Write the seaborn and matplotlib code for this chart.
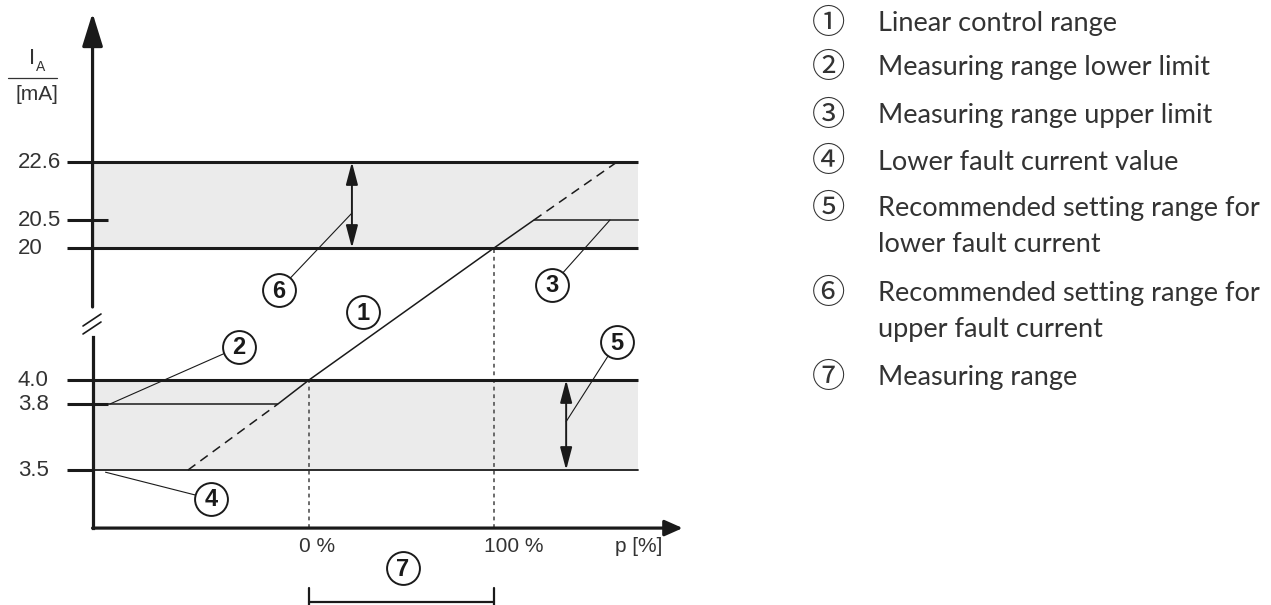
import numpy as np
import matplotlib
matplotlib.use('Agg')
import matplotlib.pyplot as plt
import matplotlib.transforms as mtransforms
import seaborn as sns

# current levels on the vertical axis (mA)
current_ticks = [3.5, 3.8, 4.0, 20.0, 20.5, 22.6]
current_labels = ['3.5', '3.8', '4.0', '20', '20.5', '22.6']

# characteristic: pressure p [%] -> output current I_A [mA]
curve_p = [-117, -16.8, 0, 100, 121.6, 178]
curve_ma = [3.8, 3.8, 4.0, 20.0, 20.5, 20.5]
low_ext_p = [-65.4, -16.8]
low_ext_ma = [3.5, 3.8]
high_ext_p = [121.6, 166.5]
high_ext_ma = [20.5, 22.6]

p_ticks = [0, 100]
p_labels = ['0 %', '100 %']

# recommended fault current setting bands (mA)
band_low = (3.5, 4.0)
band_high = (20.0, 22.6)

legend_marks = ['①', '②', '③', '④', '⑤', '⑥', '⑦']
legend_texts = ['Linear control range',
                'Measuring range lower limit',
                'Measuring range upper limit',
                'Lower fault current value',
                'Recommended setting range for\nlower fault current',
                'Recommended setting range for\nupper fault current',
                'Measuring range']

# --- layout -------------------------------------------------------------
W, H = 1271, 605
P_AXIS, P_END, P_TICK, P_ARROW = -117, 178, -131, 202
Y_BASE, BREAK_LO, BREAK_HI, Y_TOP = 3.236, 9.21, 12.85, 28.0
INK = '#1a1a1a'
TXT = '#333333'

# broken, not-to-scale current axis
ma_knots = [2.0, 3.5, 3.8, 4.0, 20.0, 20.5, 22.6, 30.0]
pos_knots = [-800, -470, -404, -380, -248, -220, -162, 42.2]

def fwd(v):
    return np.interp(v, ma_knots, pos_knots)

def inv(v):
    return np.interp(v, pos_knots, ma_knots)

sns.set_theme(style='white')
plt.rcParams['font.family'] = ['Liberation Sans', 'DejaVu Sans']

fig = plt.figure(figsize=(W / 100, H / 100), dpi=100)
ax = fig.add_axes([0, 0, 1, 1])
ax.set_yscale('function', functions=(fwd, inv))
ax.set_xlim(-309 / 1.85, (W - 309) / 1.85)
ax.set_ylim(inv(-H), inv(0))
ax.axis('off')

px = mtransforms.Affine2D().scale(1 / W, -1 / H).translate(0, 1) + fig.transFigure
x_px_y_data = mtransforms.blended_transform_factory(px, ax.transData)
x_data_y_px = mtransforms.blended_transform_factory(ax.transData, px)

# shaded bands
for lo, hi in [band_low, band_high]:
    ax.fill_between([P_AXIS, P_END], lo, hi, color='#ebebeb', lw=0, zorder=1)

# level lines and ticks
for v in [22.6, 20.0, 4.0]:
    ax.plot([P_TICK, P_END], [v, v], color=INK, lw=2.2, zorder=3, solid_capstyle='butt')
ax.plot([P_TICK, P_AXIS], [3.5, 3.5], color=INK, lw=2.2, zorder=3, solid_capstyle='butt')
ax.plot([P_AXIS, P_END], [3.5, 3.5], color=INK, lw=1.3, zorder=3)
for v in [20.5, 3.8]:
    ax.plot([P_TICK, -108.6], [v, v], color=INK, lw=2.2, zorder=3, solid_capstyle='butt')
for v, lab in zip(current_ticks, current_labels):
    ax.text(18, v, lab, transform=x_px_y_data, ha='left', va='center',
            fontsize=16, color=TXT)

# characteristic curve
sns.lineplot(x=curve_p, y=curve_ma, ax=ax, sort=False, estimator=None,
             color=INK, lw=1.1, zorder=4)
for xs, ys in [(low_ext_p, low_ext_ma), (high_ext_p, high_ext_ma)]:
    sns.lineplot(x=xs, y=ys, ax=ax, sort=False, estimator=None,
                 color=INK, lw=1.1, zorder=4, linestyle=(0, (6, 4)))

# dotted guides at 0 % and 100 %
for p, v in zip(p_ticks, [4.0, 20.0]):
    ax.plot([p, p], [Y_BASE, v], color='#444444', lw=1.1, linestyle=(0, (2.5, 2.5)), zorder=2)

# axes with arrows and break
ax.plot([P_AXIS, P_AXIS], [Y_BASE, BREAK_LO], color=INK, lw=2.3, zorder=5,
        solid_capstyle='projecting')
ax.annotate('', xy=(P_AXIS, Y_TOP), xytext=(P_AXIS, BREAK_HI),
            arrowprops=dict(arrowstyle='-|>,head_length=1.45,head_width=0.45',
                            mutation_scale=14, color=INK, lw=2.3,
                            shrinkA=0, shrinkB=0), zorder=5)
ax.annotate('', xy=(P_ARROW, Y_BASE), xytext=(P_AXIS, Y_BASE),
            arrowprops=dict(arrowstyle='-|>,head_length=0.9,head_width=0.4',
                            mutation_scale=12, color=INK, lw=2.3,
                            shrinkA=0, shrinkB=0), zorder=5)
for yb in [326, 334]:
    ax.plot([83, 101], [yb, yb - 12], transform=px, color=INK, lw=1.2, zorder=5)

# double arrows for recommended setting ranges
for p, (lo, hi) in [(23.2, band_high), (139.0, band_low)]:
    ax.annotate('', xy=(p, hi), xytext=(p, lo),
                arrowprops=dict(arrowstyle='<|-|>,head_length=1.25,head_width=0.33',
                                mutation_scale=11, color=INK, lw=1.4,
                                shrinkA=0, shrinkB=0), zorder=4)

# axis labels
ax.text(32, 58, 'I', transform=px, ha='center', va='center', fontsize=16, color=TXT)
ax.text(41, 67, 'A', transform=px, ha='center', va='center', fontsize=10, color=TXT)
ax.plot([8, 57], [78, 78], transform=px, color=TXT, lw=0.9)
ax.text(37, 95, '[mA]', transform=px, ha='center', va='center', fontsize=15, color=TXT)
for p, lab in zip(p_ticks, p_labels):
    ax.annotate(lab, xy=(p, 547), xycoords=x_data_y_px, xytext=(-10, 0),
                textcoords='offset pixels', ha='left', va='center', fontsize=15, color=TXT)
ax.text(615, 547, 'p [%]', transform=px, ha='left', va='center', fontsize=15, color=TXT)

# measuring range bar
ax.annotate('', xy=(0, 602), xycoords=x_data_y_px, xytext=(100, 602),
            textcoords=x_data_y_px,
            arrowprops=dict(arrowstyle='|-|,widthA=0.7,widthB=0.7', mutation_scale=14,
                            color=INK, lw=1.6, shrinkA=0, shrinkB=0))

# callouts: (number, circle px, leader end in data or None)
callouts = [('1', (363, 312), None),
            ('2', (239, 347), (-107.6, 3.8)),
            ('3', (552, 285), (162.7, 20.5)),
            ('4', (211, 499), (-110.0, 3.49)),
            ('5', (617, 342), (139.0, 3.72)),
            ('6', (279, 290), (23.2, 20.75)),
            ('7', (403, 568), None)]
for num, (cx, cy), end in callouts:
    if end is not None:
        ax.annotate('', xy=end, xycoords='data', xytext=(cx, cy), textcoords=px,
                    arrowprops=dict(arrowstyle='-', color=INK, lw=0.8,
                                    shrinkA=0, shrinkB=0), zorder=5)
    ax.scatter([cx], [cy], s=560, transform=px, facecolor='white',
               edgecolor=INK, linewidth=1.4, zorder=6)
    ax.text(cx, cy + 1, num, transform=px, ha='center', va='center', fontsize=17,
            fontweight='bold', color=INK, zorder=7)

# legend on the right
rows = [23, 68, 115, 162, 208, 293, 377]
for mark, label, y in zip(legend_marks, legend_texts, rows):
    fig.text(829 / W, 1 - y / H, mark, ha='center', va='center', fontsize=24,
             color=TXT, family=['Noto Sans CJK JP', 'DejaVu Sans'])
    for k, line in enumerate(label.split('\n')):
        fig.text(878 / W, 1 - (y + 37 * k) / H, line, ha='left', va='center',
                 fontsize=19.5, color=TXT, family=['Lato', 'DejaVu Sans'])

fig.savefig('out.png', dpi=100)
